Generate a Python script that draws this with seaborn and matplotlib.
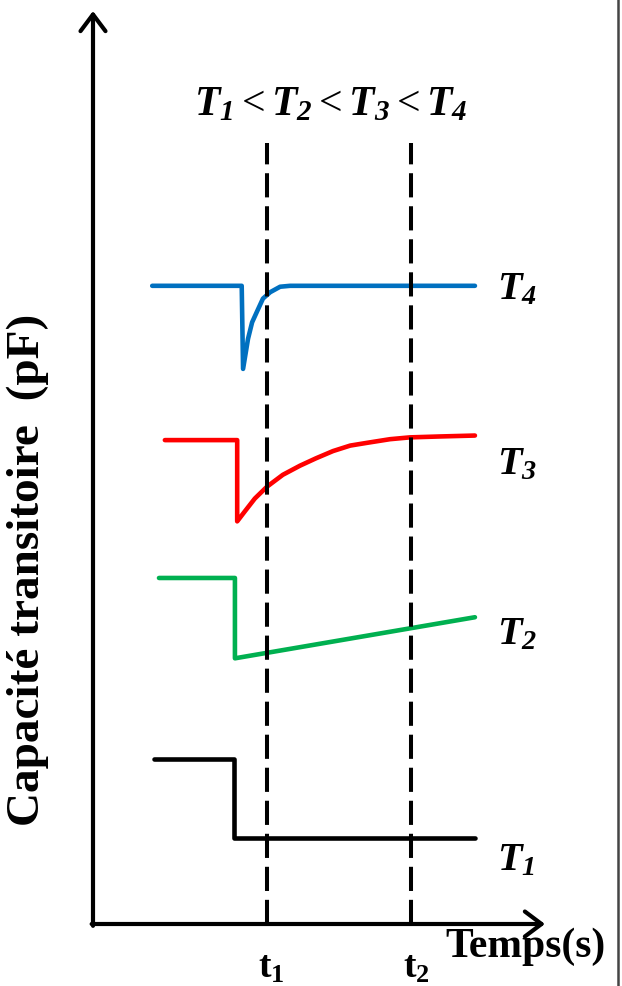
import numpy as np
import matplotlib
matplotlib.use("Agg")
import matplotlib.pyplot as plt
import seaborn as sns

# ---- data (arbitrary units) ----
t1_x = [13.5, 31.2, 31.2, 84.5]
t1_y = [18.1, 18.1, 9.4, 9.4]

t2_x = [14.6, 31.4, 31.4, 84.5]
t2_y = [37.9, 37.9, 29.1, 33.6]

t3_x = [15.9, 31.9, 31.9, 33.6, 35.8, 38.5, 42.0, 45.8, 49.3, 53.1, 56.9, 60.6, 65.7, 70.1, 76.8, 84.5]
t3_y = [53.0, 53.0, 44.1, 45.2, 46.6, 47.9, 49.2, 50.2, 51.0, 51.8, 52.4, 52.7, 53.1, 53.3, 53.4, 53.5]

t4_x = [13.1, 32.9, 33.2, 34.3, 35.2, 36.3, 37.6, 39.2, 41.4, 43.6, 84.5]
t4_y = [69.9, 69.9, 60.8, 64.1, 65.9, 67.1, 68.5, 69.2, 69.8, 69.9, 69.9]

series = [
    (t1_x, t1_y, "black", r"$T_1$", 6.0),
    (t2_x, t2_y, "#00B050", r"$T_2$", 30.7),
    (t3_x, t3_y, "#FF0000", r"$T_3$", 49.4),
    (t4_x, t4_y, "#0070C0", r"$T_4$", 68.5),
]

sample_times = [38.4, 70.3]
sample_labels = [r"$\mathbf{t_1}$", r"$\mathbf{t_2}$"]

sns.set_style("white")
plt.rcParams["font.family"] = ["Liberation Serif", "DejaVu Serif"]
plt.rcParams["text.color"] = "black"
plt.rcParams["mathtext.fontset"] = "custom"
plt.rcParams["mathtext.rm"] = "Liberation Serif:italic:bold"
plt.rcParams["mathtext.it"] = "Liberation Serif:italic:bold"
plt.rcParams["mathtext.bf"] = "Liberation Serif:bold"
plt.rcParams["mathtext.sf"] = "Liberation Serif"

fig = plt.figure(figsize=(6.22, 9.87), dpi=100)
ax = fig.add_axes([93 / 622, 62 / 987, 452 / 622, 913 / 987])
ax.set_xlim(0, 100)
ax.set_ylim(0, 100)
ax.axis("off")

# curves
for xs, ys, col, lab, ly in series:
    sns.lineplot(x=xs, y=ys, color=col, lw=3.3, sort=False, estimator=None, ax=ax)
    ax.text(89.4, ly, lab, fontsize=29, ha="left", va="baseline")

# dashed sampling times
for tx, tl in zip(sample_times, sample_labels):
    ax.plot([tx, tx], [0, 85.5], color="black", lw=2.9, dashes=(6, 2.2), solid_capstyle="butt")
    ax.text(tx - 1.8, -5.8, tl, fontsize=27, ha="left", va="baseline", clip_on=False)

lt = r"\mathsf{<}"
ax.text(52.5, 88.7, "$T_1" + lt + "T_2" + lt + "T_3" + lt + "T_4$",
        fontsize=30, ha="center", va="baseline")

# axes drawn as arrows
arrow = dict(arrowstyle="->,head_length=0.6,head_width=0.45", lw=3, color="black",
             mutation_scale=20, shrinkA=0, shrinkB=0)
ax.annotate("", xy=(1, 0), xytext=(-0.003, 0), xycoords="axes fraction", arrowprops=arrow, annotation_clip=False)
ax.annotate("", xy=(0, 1), xytext=(0, -0.002), xycoords="axes fraction", arrowprops=arrow, annotation_clip=False)

fig.text(0.045, 1 - 570 / 987, "Capacité transitoire  (pF)", rotation=90, fontsize=34,
         fontweight="bold", ha="center", va="center")
fig.text(526 / 622, 1 - 957 / 987, "Temps(s)", fontsize=30, fontweight="bold",
         ha="center", va="baseline")

# thin frame line on the right edge
fig.add_artist(plt.Line2D([618 / 622, 618 / 622], [0, 1], color="#444444", lw=1.8,
                          transform=fig.transFigure))

fig.savefig("out.png", dpi=100)
